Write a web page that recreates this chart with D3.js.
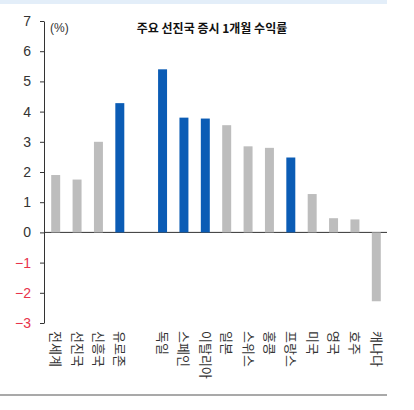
<!DOCTYPE html><html><head><meta charset="utf-8"><script src="https://cdn.jsdelivr.net/npm/d3@7"></script>
<style>body{margin:0;background:#fff}</style></head><body><svg id="c" width="414" height="410"></svg>
<script>
const categories=["전세계","선진국","신흥국","유로존","","독일","스페인","이탈리아","일본","스위스","홍콩","프랑스","미국","영국","호주","캐나다"];
const values=[1.9,1.75,3.0,4.28,null,5.4,3.8,3.77,3.55,2.85,2.8,2.48,1.27,0.47,0.43,-2.28];
const highlight=["유로존","독일","스페인","이탈리아","프랑스"];
const yTicks=[7,6,5,4,3,2,1,0,-1,-2,-3];
const svg=d3.select("#c");
svg.append("rect").attr("x",0).attr("y",0).attr("width",387).attr("height",4).attr("fill","#e3eef9");
svg.append("line").attr("x1",0).attr("x2",387).attr("y1",395).attr("y2",395).attr("stroke","#555").attr("stroke-width",1.2);
const y=d3.scaleLinear().domain([-3,7]).range([323,21]);
const x=d3.scaleBand().domain(categories.map((d,i)=>i)).range([45,387]).paddingInner(0.58).paddingOuter(0.29);
const ax=svg.append("g").attr("transform","translate(44,0)").call(d3.axisLeft(y).tickValues(yTicks).tickSize(4).tickSizeOuter(0).tickFormat(d=>d<0?"−"+(-d):d));
ax.select(".domain").attr("stroke","#333");
ax.selectAll(".tick line").attr("stroke","#333");
ax.selectAll("text").attr("font-family","Liberation Sans, Arial").attr("font-size",14).attr("dx",-6)
 .attr("fill",d=>d<0?"#e8334a":"#333");
svg.append("line").attr("x1",44).attr("x2",387).attr("y1",y(0)).attr("y2",y(0)).attr("stroke","#333");
svg.append("text").attr("x",50).attr("y",32).text("(%)").attr("font-family","Liberation Sans, Arial").attr("font-size",12).attr("fill","#333");
svg.append("text").attr("x",212).attr("y",33).attr("text-anchor","middle").text("주요 선진국 증시 1개월 수익률").attr("font-family","Noto Sans CJK KR").attr("font-weight","bold").attr("font-size",12).attr("fill","#111");
svg.selectAll("rect.bar").data(values.map((v,i)=>({v,i})).filter(d=>d.v!==null)).enter().append("rect")
 .attr("x",d=>x(d.i)).attr("width",x.bandwidth()).attr("y",d=>y(Math.max(0,d.v))).attr("height",d=>Math.abs(y(d.v)-y(0)))
 .attr("fill",d=>highlight.includes(categories[d.i])?"#0b5cb5":"#bdbdbd");
svg.selectAll("text.cat").data(categories).enter().append("text").attr("class","cat")
 .attr("transform",(c,i)=>`translate(${x(i)+x.bandwidth()/2},331) rotate(90)`)
 .attr("dy","0.35em").attr("font-family","Noto Sans CJK KR").attr("font-size",13).attr("fill","#333").text(d=>d);
</script></body></html>
